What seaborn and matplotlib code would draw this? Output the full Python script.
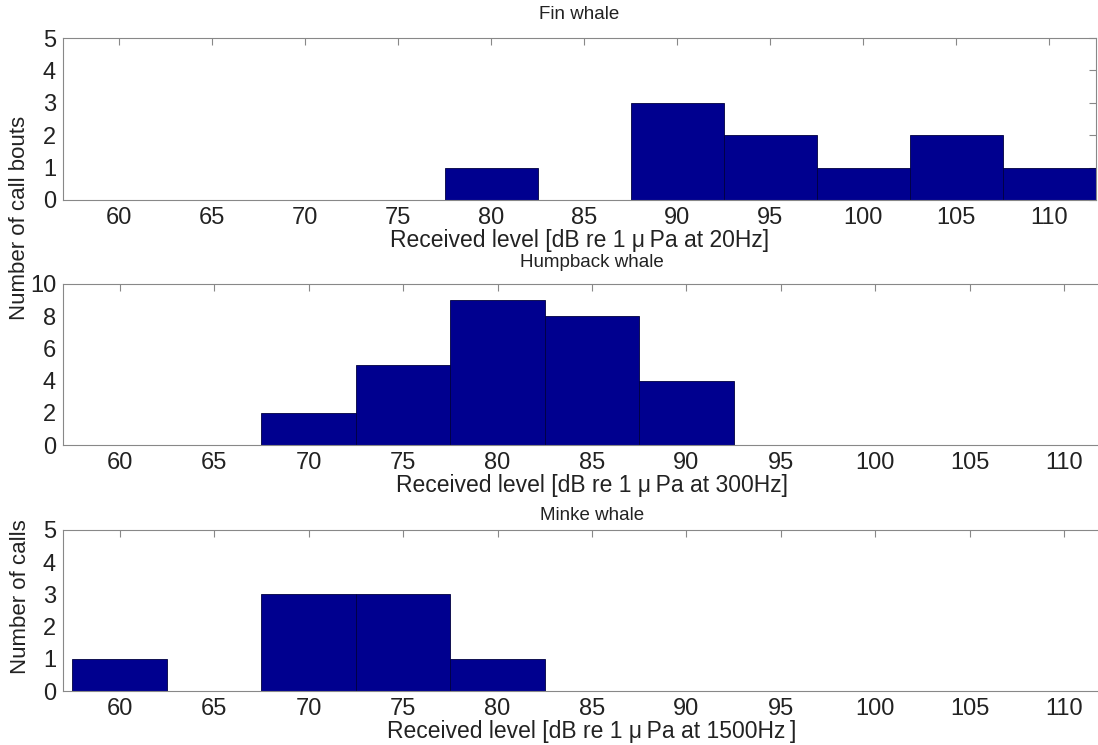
import pandas as pd
import seaborn as sns
import matplotlib.pyplot as plt

# bin centres (dB) and counts
centers = [60, 65, 70, 75, 80, 85, 90, 95, 100, 105, 110]
fin_counts = [0, 0, 0, 0, 1, 0, 3, 2, 1, 2, 1]
humpback_counts = [0, 0, 2, 5, 9, 8, 4, 0, 0, 0, 0]
minke_counts = [1, 0, 3, 3, 1, 0, 0, 0, 0, 0, 0]

titles = ['Fin whale', 'Humpback whale', 'Minke whale']
xlabels = ['Received level [dB re 1 \u03bc\u2009Pa at 20Hz]',
           'Received level [dB re 1 \u03bc\u2009Pa at 300Hz]',
           'Received level [dB re 1 \u03bc\u2009Pa at 1500Hz\u2009]']
ylims = [5, 10, 5]
yticks = [range(0, 6), range(0, 11, 2), range(0, 6)]
xmax = [112.5, 113, 113]
title_pads = [14, 12, 7]

sns.set_style("white")
plt.rcParams['font.family'] = ['Liberation Sans', 'DejaVu Sans']

fig = plt.figure(figsize=(10.98, 7.45), dpi=100)
W, H = 1098, 745
# axes boxes in pixels: left, top, right, bottom (lower two run past the right edge)
boxes = [(63, 38, 1096, 200), (63, 284, 1121, 445), (63, 530, 1121, 691)]
axes = []
for (l, t, r, b) in boxes:
    axes.append(fig.add_axes([l / W, 1 - b / H, (r - l) / W, (b - t) / H]))

for i, ax in enumerate(axes):
    counts = [fin_counts, humpback_counts, minke_counts][i]
    df = pd.DataFrame({'level': centers, 'n': counts})
    sns.histplot(data=df, x='level', weights='n', binwidth=5, binrange=(57.5, 112.5),
                 ax=ax, color='#00008F', alpha=1, edgecolor='#000040', linewidth=0.6)
    ax.set_xlim(57, xmax[i])
    ax.set_ylim(0, ylims[i])
    ax.set_xticks(range(60, 111, 5))
    ax.set_yticks(list(yticks[i]))
    ax.tick_params(direction='in', length=5, width=0.8, color='#888888',
                   top=True, right=True, labelsize=17, pad=5, labelcolor='#222222')
    for s in ax.spines.values():
        s.set_color('#888888')
        s.set_linewidth(0.8)
    ax.set_title(titles[i], fontsize=13.5, pad=title_pads[i], color='#222222')
    ax.set_xlabel(xlabels[i], fontsize=16.5, labelpad=0, color='#222222')
    ax.set_ylabel('')

fig.text(20 / W, 1 - 218 / H, 'Number of call bouts', rotation=90,
         ha='center', va='center', fontsize=16, color='#222222')
fig.text(20 / W, 1 - 597 / H, 'Number of calls', rotation=90,
         ha='center', va='center', fontsize=16, color='#222222')

plt.savefig('out.png', dpi=100)
